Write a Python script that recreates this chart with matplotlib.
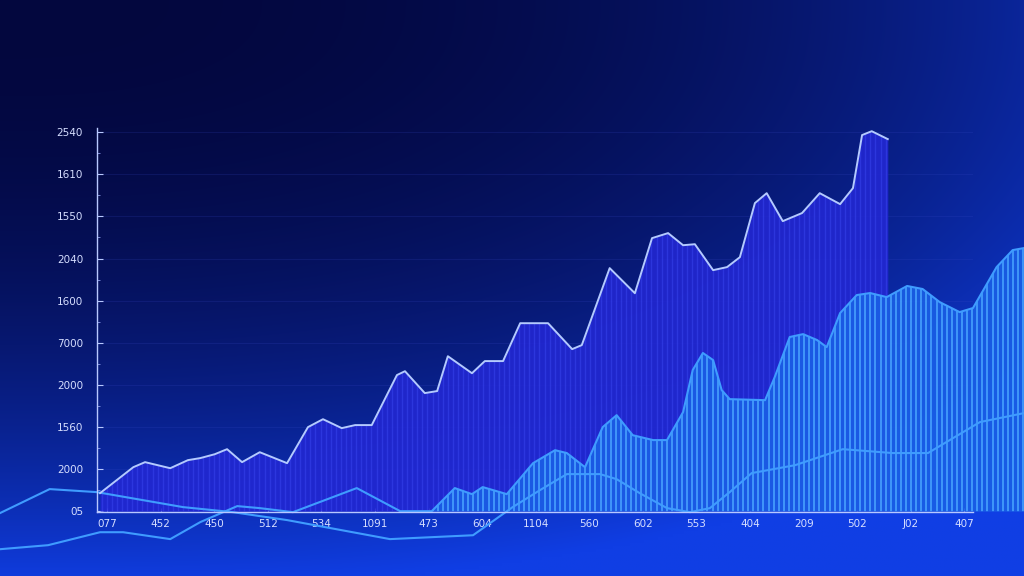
import numpy as np
import matplotlib
matplotlib.use('Agg')
import matplotlib.pyplot as plt
from matplotlib.ticker import MultipleLocator

# tick labels as printed on the chart
x_labels = ["077", "452", "450", "512", "534", "1091", "473", "604", "1104",
            "560", "602", "553", "404", "209", "502", "J02", "407"]
y_labels = ["05", "2000", "1560", "2000", "7000", "1600", "2040", "1550", "1610", "2540"]

# main series (upper area)
main_x = [-0.13, 0.49, 0.71, 1.18, 1.51, 1.74, 2.01, 2.24, 2.52, 2.85, 3.36, 3.75, 4.03,
          4.38, 4.63, 4.94, 5.41, 5.56, 5.93, 6.16, 6.36, 6.81, 7.05, 7.39, 7.71, 8.23,
          8.68, 8.86, 9.38, 9.85, 10.17, 10.47, 10.75, 10.97, 11.31, 11.57, 11.81, 12.09,
          12.31, 12.61, 12.97, 13.30, 13.68, 13.92, 14.09, 14.27, 14.57]
main_y = [107, 261, 291, 255, 303, 315, 338, 368, 291, 350, 285, 499, 546,
          493, 511, 511, 808, 831, 701, 713, 920, 819, 891, 891, 1116, 1116,
          962, 986, 1443, 1294, 1621, 1651, 1579, 1585, 1431, 1449, 1508, 1829,
          1888, 1722, 1770, 1888, 1823, 1918, 2233, 2256, 2209]

# second series (light area, its line starts off the left edge)
area_x = [-2.00, -1.10, -0.13, 0.30, 1.18, 1.74, 2.43, 2.85, 3.47, 4.66, 5.47, 6.06,
          6.49, 6.81, 7.01, 7.46, 7.95, 8.36, 8.58, 8.92, 9.25, 9.51, 9.81, 10.19, 10.45,
          10.75, 10.93, 11.12, 11.31, 11.47, 11.62, 12.28, 12.46, 12.74, 12.99, 13.25,
          13.43, 13.68, 13.99, 14.24, 14.55, 14.93, 15.22, 15.54, 15.91, 16.16, 16.60,
          16.90, 17.11]
area_y = [-226, -202, -125, -125, -166, -65, 30, 18, -6, 137, 0, 0,
          137, 101, 143, 101, 285, 362, 345, 261, 499, 570, 451, 422, 422,
          588, 838, 939, 897, 719, 665, 659, 796, 1034, 1051, 1016,
          974, 1176, 1283, 1295, 1271, 1337, 1319, 1241, 1182, 1206, 1449,
          1550, 1562]
area_start = 11  # fill begins here

# third series (thin line)
line_x = [-2.00, -1.07, -0.19, 1.42, 2.35, 3.36, 5.28, 6.83, 7.57, 8.08, 8.58, 9.20,
          9.51, 9.94, 10.45, 10.88, 11.25, 11.62, 12.03, 12.84, 13.73, 14.66, 15.32,
          16.29, 17.11]
line_y = [-12, 131, 113, 24, -6, -53, -166, -143, 24, 125, 220, 220,
          190, 107, 18, -6, 18, 113, 226, 273, 368, 345, 345, 529, 582]

W, H = 1024, 576
fig = plt.figure(figsize=(W / 100, H / 100), dpi=100)

# background gradient: dark navy top-left, bright blue along bottom and right
bg = fig.add_axes([0, 0, 1, 1])
bg.axis('off')
gy, gx = np.mgrid[0:1:200j, 0:1:360j]
dark = np.array([3, 7, 62]) / 255
bright = np.array([16, 62, 228]) / 255
w = np.clip(0.95 * gy ** 2.2 + 0.55 * gx ** 2.5, 0, 1)
img = dark + (bright - dark) * w[..., None]
bg.imshow(img, aspect='auto', extent=[0, 1, 0, 1], interpolation='bilinear')
bg.set_xlim(0, 1)
bg.set_ylim(0, 1)

ax = fig.add_axes([97 / W, 1 - 512 / H, (973 - 97) / W, (512 - 128) / H])
ax.set_facecolor('none')
ax.set_xlim(-0.187, 16.16)
ax.set_ylim(-5, 2275)


def stripes(coll, color, lw, alpha, z):
    lc = ax.vlines(np.arange(-2.0, 17.2, 0.095), -300, 2300, colors=color,
                   linewidth=lw, alpha=alpha, zorder=z)
    lc.set_clip_path(coll.get_paths()[0], ax.transData)
    lc.set_clip_box(None)


main_fill = ax.fill_between(main_x, main_y, 0, color='#2227d2', alpha=0.9, lw=0, zorder=2)
stripes(main_fill, '#3a46f0', 1.0, 0.5, 2.1)

ax_ = area_x[area_start:]
ay_ = area_y[area_start:]
area_fill = ax.fill_between(ax_, ay_, 0, color='#1a5fe6', alpha=0.9, lw=0, zorder=3,
                            clip_on=False)
stripes(area_fill, '#4aa6ff', 1.4, 0.8, 3.1)

ax.plot(area_x, area_y, color='#3f9cff', lw=1.5, zorder=4, clip_on=False)
ax.plot(line_x, line_y, color='#3f9cff', lw=1.5, zorder=4, clip_on=False)
ax.plot(main_x, main_y, color='#b4caff', lw=1.4, zorder=5, clip_on=False)

# axes styling
for s in ['top', 'right']:
    ax.spines[s].set_visible(False)
for s in ['left', 'bottom']:
    ax.spines[s].set_color('#b8c8ff')
    ax.spines[s].set_linewidth(1.0)
    ax.spines[s].set_zorder(6)

ax.set_yticks(np.arange(0, 2251, 250))
ax.set_yticklabels(y_labels)
ax.yaxis.set_minor_locator(MultipleLocator(125))
ax.set_xticks(range(len(x_labels)))
ax.set_xticklabels(x_labels)
ax.tick_params(axis='y', which='major', direction='in', length=4, width=0.8,
               color='#b8c8ff', labelcolor='#d6deff', labelsize=7.5, pad=10)
ax.tick_params(axis='y', which='minor', direction='in', length=2, width=0.6, color='#8898e8')
ax.tick_params(axis='x', direction='in', length=3, width=0.8, color='#b8c8ff',
               labelcolor='#d6deff', labelsize=7.5, pad=5)
ax.grid(axis='y', color='#3a4ac8', alpha=0.18, lw=0.8, zorder=1)

plt.savefig('out.png', dpi=100)
